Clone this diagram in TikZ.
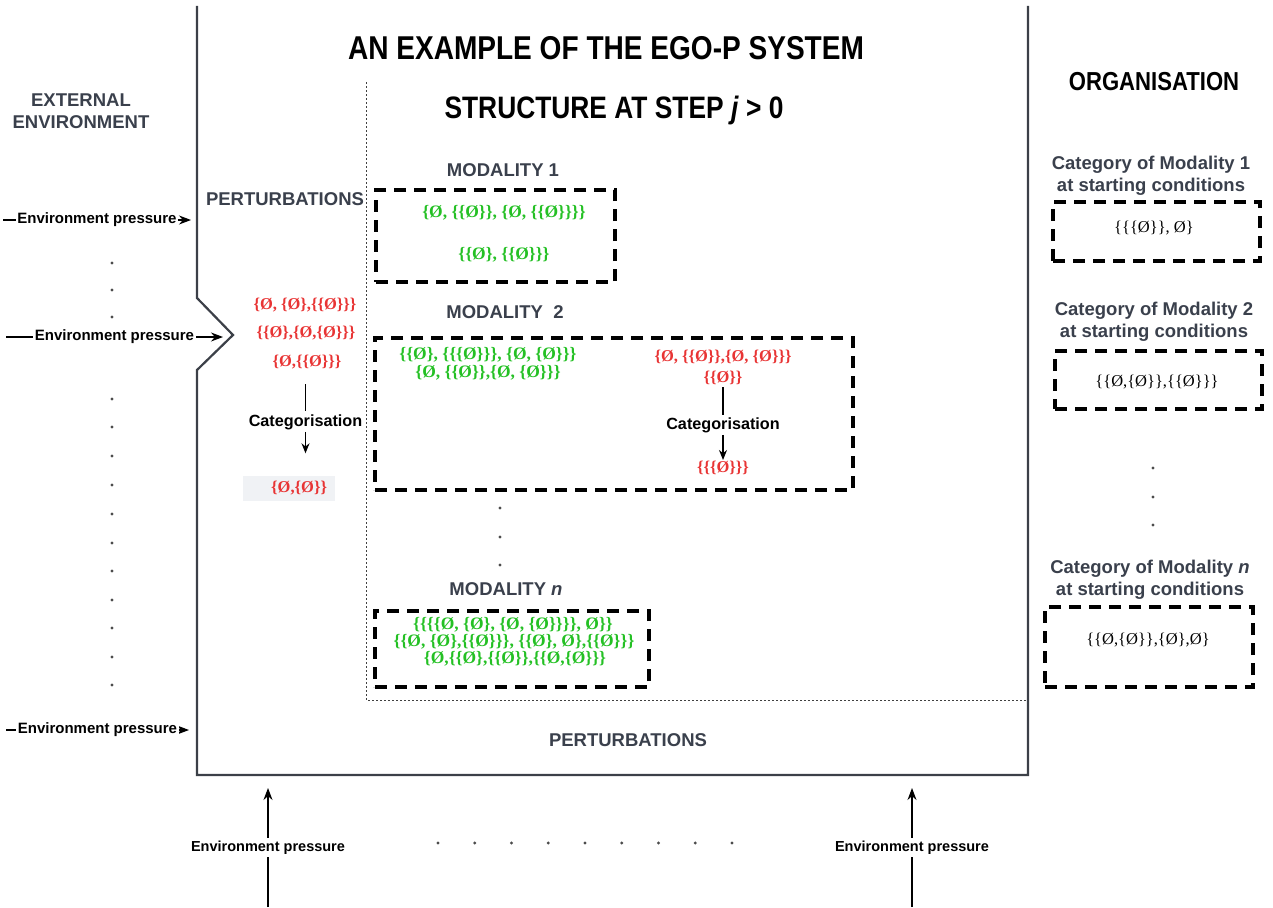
\documentclass[tikz,border=0pt]{standalone}
\usepackage{fontspec}
\setmainfont{Liberation Sans}
\newfontfamily\narrowsans[FakeStretch=0.85]{Liberation Sans}
\newfontfamily\setserif{Liberation Serif}
\usetikzlibrary{arrows.meta}
\definecolor{headgray}{RGB}{58,64,76}
\definecolor{setgreen}{RGB}{36,192,36}
\definecolor{setred}{RGB}{232,52,52}
\definecolor{framegray}{RGB}{60,64,72}
\definecolor{bgray}{RGB}{240,242,245}
\tikzset{
  frame/.style={draw=framegray, line width=2.2pt, line join=miter},
  dotline/.style={draw=black!75, line width=0.9pt, dash pattern=on 2pt off 2pt},
  setbox/.style={draw=black, line width=4pt, dash pattern=on 12pt off 8pt, inner sep=0},
  bigtitle/.style={inner sep=0, font=\narrowsans\bfseries\fontsize{33}{36}\selectfont},
  head/.style={inner sep=0, text=headgray, align=center, font=\bfseries\fontsize{18.5}{22}\selectfont},
  gset/.style={inner sep=0, text=setgreen, font=\setserif\bfseries\fontsize{17.5}{20}\selectfont},
  rset/.style={inner sep=0, text=setred, font=\setserif\bfseries\fontsize{16.5}{20}\selectfont},
  kset/.style={inner sep=0, text=black, font=\setserif\fontsize{16.5}{20}\selectfont},
  catlabel/.style={inner sep=0, font=\bfseries\fontsize{16.2}{20}\selectfont},
  plabel/.style={fill=white, inner sep=1.5pt, font=\bfseries\fontsize{15}{18}\selectfont},
  blabel/.style={fill=white, inner sep=3pt, font=\bfseries\fontsize{14.5}{18}\selectfont},
  arr/.style={draw=black, line width=1.3pt, -{Stealth[length=10pt,width=8pt]}},
  parr/.style={draw=black, line width=1.1pt, -{Stealth[length=12pt,width=9pt]}},
  plainline/.style={draw=black, line width=1.3pt},
  dotc/.style={fill=black!70}
}
\begin{document}
\begin{tikzpicture}[x=1pt,y=-1pt]
\useasboundingbox (0,0) rectangle (1273,907);

% main frame
\draw[frame] (197,6) -- (197,298) -- (233,335) -- (197,370) -- (197,775) -- (1028,775) -- (1028,6);
% dotted separators
\draw[dotline] (366,82) -- (366,700) -- (1028,700);

% titles
\node[bigtitle] (title) at (606,48) {AN EXAMPLE OF THE EGO-P SYSTEM};
\node[bigtitle, font=\narrowsans\bfseries\fontsize{31}{34}\selectfont] (struct) at (614,110) {STRUCTURE AT STEP \textit{j} > 0};
\node[bigtitle, font=\narrowsans\bfseries\fontsize{26}{30}\selectfont] (org) at (1154,82) {ORGANISATION};
\node[head] (ext) at (81,111) {EXTERNAL\\ENVIRONMENT};
\node[head] (pertl) at (285,199) {PERTURBATIONS};
\node[head] (pertb) at (628,740) {PERTURBATIONS};

% modality headings
\node[head] (m1h) at (503,170) {MODALITY 1};
\node[head] (m2h) at (505,312) {MODALITY~~2};
\node[head] (mnh) at (506,589) {MODALITY \textit{n}};

% modality boxes
\node[setbox, minimum width=239pt, minimum height=92pt] (m1box) at (495.5,236) {};
\node[setbox, minimum width=478pt, minimum height=152pt] (m2box) at (614,414) {};
\node[setbox, minimum width=274pt, minimum height=76pt] (mnbox) at (512,649) {};

% modality 1 contents
\node[gset] (m1a) at (504,213) {\{Ø, \{\{Ø\}\}, \{Ø, \{\{Ø\}\}\}\}};
\node[gset] (m1b) at (504,255) {\{\{Ø\}, \{\{Ø\}\}\}};

% modality 2 contents
\node[gset] (m2a) at (488,355) {\{\{Ø\}, \{\{\{Ø\}\}\}, \{Ø, \{Ø\}\}\}};
\node[gset] (m2b) at (488,373) {\{Ø, \{\{Ø\}\},\{Ø, \{Ø\}\}\}};
\node[rset] (m2r1) at (723,357) {\{Ø, \{\{Ø\}\},\{Ø, \{Ø\}\}\}};
\node[rset] (m2r2) at (723,378) {\{\{Ø\}\}};
\node[catlabel] (m2cat) at (723,425) {Categorisation};
\node[rset] (m2res) at (723,468) {\{\{\{Ø\}\}\}};
\draw[plainline, shorten <=2pt, shorten >=2pt] (m2r2.south) -- (m2cat.north);
\draw[arr, shorten <=2pt, shorten >=1pt] (m2cat.south) -- (m2res.north);

% modality n contents
\node[gset] (mna) at (513,625) {\{\{\{\{Ø, \{Ø\}, \{Ø, \{Ø\}\}\}\}, Ø\}\}};
\node[gset] (mnb) at (514,642) {\{\{Ø, \{Ø\},\{\{Ø\}\}\}, \{\{Ø\}, Ø\},\{\{Ø\}\}\}};
\node[gset] (mnc) at (515,659) {\{Ø,\{\{Ø\},\{\{Ø\}\},\{\{Ø,\{Ø\}\}\}};

% left perturbation contents
\node[rset] (l1) at (305,305) {\{Ø, \{Ø\},\{\{Ø\}\}\}};
\node[rset] (l2) at (306,333) {\{\{Ø\},\{Ø,\{Ø\}\}\}};
\node[rset] (l3) at (307,362) {\{Ø,\{\{Ø\}\}\}};
\node[catlabel] (lcat) at (305.5,422) {Categorisation};
\node[rset, fill=bgray, minimum height=25pt, text width=76pt, align=right, inner xsep=8pt] (lres) at (289,488) {\{Ø,\{Ø\}\}};
\draw[plainline, shorten <=15pt, shorten >=3pt] (l3.south -| lcat) -- (lcat.north);
\draw[arr, shorten <=2pt, shorten >=22pt] (lcat.south) -- (lcat.south |- lres.north);

% vertical dots
\foreach \yy in {263,290,317,399,427,456,485,514,543,571,600,628,657,685}
  \fill[dotc] (112,\yy) circle (1.6);
\foreach \yy in {508,537,565}
  \fill[dotc] (500,\yy) circle (1.6);
\foreach \yy in {468,497,525}
  \fill[dotc] (1153,\yy) circle (1.6);
\foreach \xx in {438,474.75,511.5,548.25,585,621.75,658.5,695.25,732}
  \fill[dotc] (\xx,843) circle (1.6);

% organisation side
\node[head] (c1h) at (1151,176) {Category of Modality 1\\at starting conditions};
\node[setbox, minimum width=207pt, minimum height=59pt] (c1box) at (1156.5,231.5) {};
\node[kset] (c1) at (1154,228) {\{\{\{Ø\}\}, Ø\}};
\node[head] (c2h) at (1154,322) {Category of Modality 2\\at starting conditions};
\node[setbox, minimum width=207pt, minimum height=58pt] (c2box) at (1158.5,380) {};
\node[kset] (c2) at (1157,382) {\{\{Ø,\{Ø\}\},\{\{Ø\}\}\}};
\node[head] (cnh) at (1150,580) {Category of Modality \textit{n}\\at starting conditions};
\node[setbox, minimum width=208pt, minimum height=80pt] (cnbox) at (1149,647) {};
\node[kset] (cn) at (1148,640) {\{\{Ø,\{Ø\}\},\{Ø\},Ø\}};

% environment pressures (left)
\coordinate (p1s) at (3,220);  \coordinate (p1e) at (191,220);
\coordinate (p2s) at (6,337);  \coordinate (p2e) at (223,337);
\coordinate (p3s) at (6,730);  \coordinate (p3e) at (189,730);
\draw[parr] (p1s) -- node[plabel] (p1l) {Environment pressure} (p1e);
\draw[parr] (p2s) -- node[plabel] (p2l) {Environment pressure} (p2e);
\draw[parr] (p3s) -- node[plabel] (p3l) {Environment pressure} (p3e);

% environment pressures (bottom)
\coordinate (b1s) at (268,907); \coordinate (b1e) at (268,788);
\coordinate (b2s) at (912,907); \coordinate (b2e) at (912,788);
\draw[parr] (b1s) -- node[blabel] (b1l) {Environment pressure} (b1e);
\draw[parr] (b2s) -- node[blabel] (b2l) {Environment pressure} (b2e);
\end{tikzpicture}
\end{document}
